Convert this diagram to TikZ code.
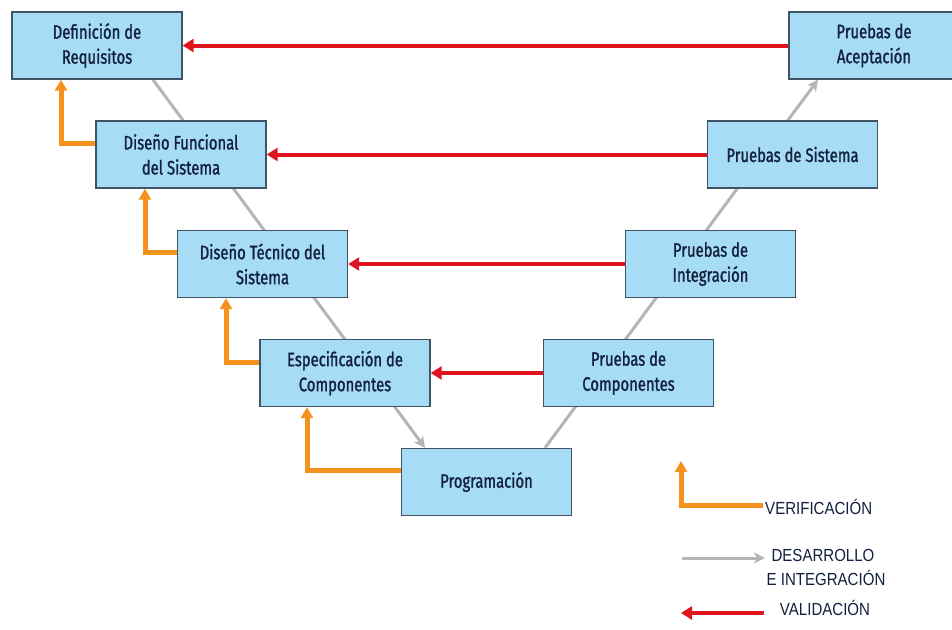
\documentclass[tikz,border=0pt]{standalone}
\usepackage{fontspec}
\usetikzlibrary{arrows.meta,backgrounds}
\newfontfamily\boxfont{Fira Sans}[FakeStretch=0.76,FakeBold=1.2]
\newfontfamily\legfont{Liberation Sans}[FakeStretch=0.86]
\definecolor{boxfill}{HTML}{A6DCF5}
\definecolor{boxline}{HTML}{3F5566}
\definecolor{boxtext}{HTML}{13203E}
\definecolor{verif}{HTML}{F5921E}
\definecolor{valid}{HTML}{E0141F}
\definecolor{devel}{HTML}{B3B6B3}
\tikzset{
  stage/.style={draw=boxline, line width=1.4pt, fill=boxfill,
    minimum width=170pt, minimum height=67pt, inner sep=0pt,
    align=center, text=boxtext, font=\boxfont\fontsize{19.5}{25}\selectfont},
  verline/.style={draw=verif, line width=5pt,
    -{Triangle[length=11pt,width=12pt]}},
  valline/.style={draw=valid, line width=4pt,
    -{Triangle[length=11pt,width=13pt]}},
  devline/.style={draw=devel, line width=3pt,
    -{Stealth[length=11pt,width=11pt,inset=3pt]}},
  legtext/.style={text=boxtext, inner sep=0pt,
    font=\legfont\fontsize{17.5}{22}\selectfont}
}
\begin{document}
\begin{tikzpicture}[x=1pt,y=-1pt]
\useasboundingbox (0,0) rectangle (952,629);
\begin{pgfonlayer}{background}
  \fill[white] (0,0) rectangle (952,629);
\end{pgfonlayer}

% development stages (left branch)
\node[stage] (b1) at (97,45.5)   {Definición de\\Requisitos};
\node[stage] (b2) at (181,154.5) {Diseño Funcional\\del Sistema};
\node[stage] (b3) at (262.5,264) {Diseño Técnico del\\Sistema};
\node[stage] (b4) at (345,373)   {Especificación de\\Componentes};
\node[stage] (b5) at (486.5,482) {Programación};
% testing stages (right branch)
\node[stage] (b6) at (628.5,373) {Pruebas de\\Componentes};
\node[stage] (b7) at (710.5,264) {Pruebas de\\Integración};
\node[stage] (b8) at (792.5,154.5) {Pruebas de Sistema};
\node[stage] (b9) at (874,45.5)  {Pruebas de\\Aceptación};

% the V: development and integration path, behind the boxes
\begin{pgfonlayer}{background}
  \draw[devline] ([xshift=56pt]b1.south) -- ([xshift=-61.5pt]b5.north);
  \draw[devline] ([xshift=58.5pt]b5.north) -- ([xshift=-56pt]b9.south);
\end{pgfonlayer}

% validation arrows
\draw[valline] (b9.west) -- (b1.east);
\draw[valline] (b8.west) -- (b2.east);
\draw[valline] (b7.west) -- (b3.east);
\draw[valline] (b6.west) -- (b4.east);

% verification arrows
\draw[verline] ([yshift=11.5pt]b2.west) -| ([xshift=-36pt]b1.south);
\draw[verline] ([yshift=12pt]b3.west) -| ([xshift=-36pt]b2.south);
\draw[verline] ([yshift=11pt]b4.west) -| ([xshift=-36.5pt]b3.south);
\draw[verline] ([yshift=12pt]b5.west) -| ([xshift=-38pt]b4.south);

% legend
\coordinate (lv) at (763,505);
\coordinate (lvtop) at (681,461);
\draw[verline] (lv) -| (lvtop);
\node[legtext, anchor=west] (tver) at (765,507) {VERIFICACIÓN};

\coordinate (ld1) at (682,558);
\coordinate (ld2) at (765,558);
\draw[devline] (ld1) -- (ld2);
\node[legtext] (tdev1) at (823,555) {DESARROLLO};
\node[legtext] (tdev2) at (826,578) {E INTEGRACIÓN};

\coordinate (lr1) at (764,613);
\coordinate (lr2) at (681,613);
\draw[valline] (lr1) -- (lr2);
\node[legtext] (tval) at (825,608) {VALIDACIÓN};
\end{tikzpicture}
\end{document}
